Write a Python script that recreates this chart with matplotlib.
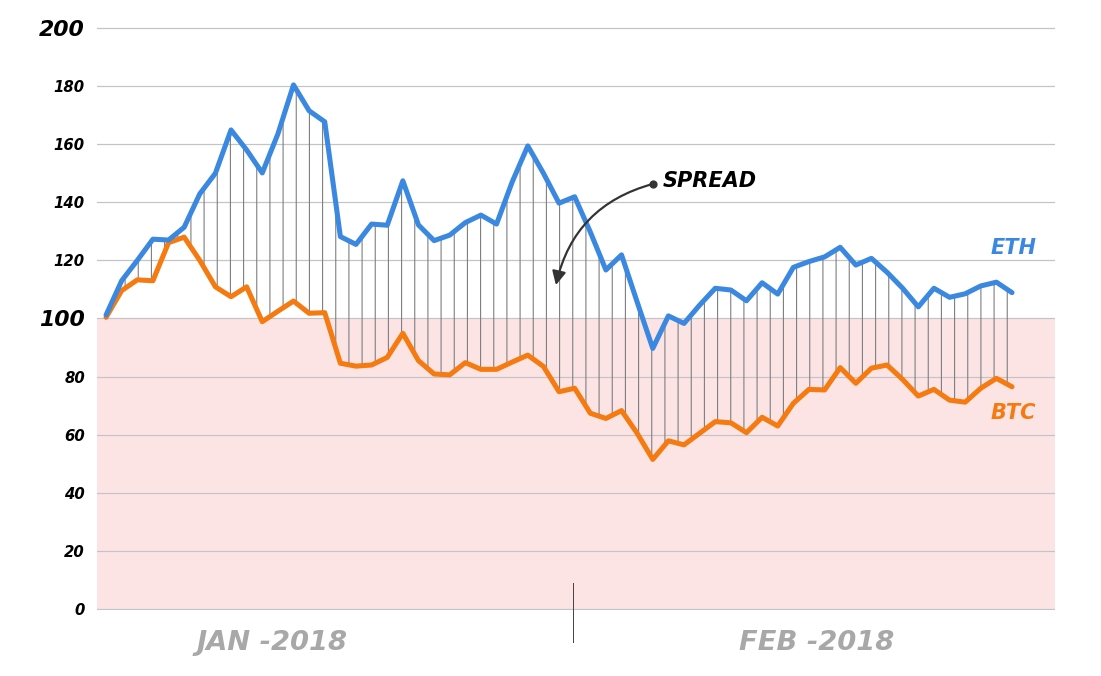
import matplotlib
matplotlib.use("Agg")
import matplotlib.pyplot as plt
import numpy as np

# daily index values, Jan 1 .. Feb 28 2018
days = np.arange(59)
eth = [101.2, 113.0, 120.0, 127.3, 127.0, 131.4, 142.9, 150.0, 164.9, 158.0,
       150.1, 163.5, 180.4, 171.5, 167.7, 128.2, 125.5, 132.5, 132.1, 147.4,
       132.2, 126.8, 128.7, 133.0, 135.6, 132.5, 147.0, 159.4, 150.0, 139.7,
       141.9, 129.8, 116.7, 121.9, 105.7, 89.7, 100.9, 98.3, 104.6, 110.4,
       109.8, 106.1, 112.3, 108.4, 117.6, 119.6, 121.2, 124.5, 118.4, 120.7,
       115.9, 110.4, 104.0, 110.4, 107.3, 108.5, 111.2, 112.5, 108.9]
btc = [100.4, 109.6, 113.3, 113.0, 126.1, 128.0, 120.0, 110.9, 107.5, 110.9,
       98.9, 102.5, 106.0, 101.8, 102.0, 84.6, 83.6, 84.0, 86.6, 94.9,
       85.5, 80.9, 80.6, 84.8, 82.5, 82.5, 85.0, 87.4, 83.5, 74.8,
       76.0, 67.4, 65.6, 68.3, 60.5, 51.5, 57.9, 56.5, 60.5, 64.5,
       64.1, 60.7, 66.0, 63.0, 70.8, 75.6, 75.4, 83.1, 77.7, 82.9,
       84.0, 79.0, 73.3, 75.6, 71.9, 71.2, 76.0, 79.4, 76.5]

yticks = list(range(0, 201, 20))
month_labels = ["JAN -2018", "FEB -2018"]
month_centers = [10.6, 45.5]
month_split = 29.9

ETH_COLOR = "#3b88e0"
BTC_COLOR = "#f57a10"

# dpi chosen so the '|' hatch spacing matches the spread lines
DPI = 79
plt.rcParams["hatch.linewidth"] = 1.0
plt.rcParams["hatch.color"] = "#7d7d7d"
plt.rcParams["font.family"] = ["DejaVu Sans"]

fig = plt.figure(figsize=(1101 / DPI, 676 / DPI), dpi=DPI)
ax = fig.add_axes([0.0881, 0.0969, 0.8701, 0.8639])

ax.axhspan(0, 100, color="#fce4e5", zorder=0, lw=0)
for v in yticks:
    ax.axhline(v, color="#c4c4c4", lw=1.1, zorder=1)

ax.fill_between(days, btc, eth, facecolor="none", edgecolor="#7d7d7d",
                linewidth=0, hatch="|", zorder=2)

ax.plot(days, btc, color=BTC_COLOR, lw=4.6, solid_joinstyle="round",
        solid_capstyle="round", zorder=4)
ax.plot(days, eth, color=ETH_COLOR, lw=4.6, solid_joinstyle="round",
        solid_capstyle="round", zorder=5)

ax.set_xlim(-0.58, 60.75)
ax.set_ylim(-0.5, 200.5)
for s in ax.spines.values():
    s.set_visible(False)
ax.set_xticks([])
ax.set_yticks(yticks)
ax.set_yticklabels([str(v) for v in yticks])
ax.tick_params(axis="y", length=0, pad=11)
for lab, v in zip(ax.get_yticklabels(), yticks):
    if v in (100, 200):
        lab.set_fontsize(20)
    else:
        lab.set_fontsize(13.5)
    lab.set_fontweight("bold")
    lab.set_fontstyle("italic")

# month labels and divider
for lab, xc in zip(month_labels, month_centers):
    ax.text(xc, -11.7, lab, color="#a8a8a8", fontsize=25, fontweight="bold",
            fontstyle="italic", ha="center", va="center", clip_on=False)
ax.plot([month_split, month_split], [9, -11.4], color="#444444", lw=0.9,
        clip_on=False, zorder=3)

# series labels
ax.text(56.6, 124.3, "ETH", color=ETH_COLOR, fontsize=19, fontweight="bold",
        fontstyle="italic", ha="left", va="center")
ax.text(56.6, 67.5, "BTC", color=BTC_COLOR, fontsize=19, fontweight="bold",
        fontstyle="italic", ha="left", va="center")

# spread annotation
ax.annotate("", xy=(28.8, 111.5), xytext=(35.0, 146.3),
            arrowprops=dict(arrowstyle="-|>", color="#333333", lw=2.0,
                            mutation_scale=26, shrinkA=0, shrinkB=0,
                            connectionstyle="arc3,rad=0.3"), zorder=6)
ax.plot([35.0], [146.3], "o", color="#333333", ms=6.5, zorder=6)
ax.text(35.66, 147.3, "SPREAD", color="black", fontsize=19, fontweight="bold",
        fontstyle="italic", ha="left", va="center", zorder=6)

fig.savefig("out.png", dpi=DPI, facecolor="white")
